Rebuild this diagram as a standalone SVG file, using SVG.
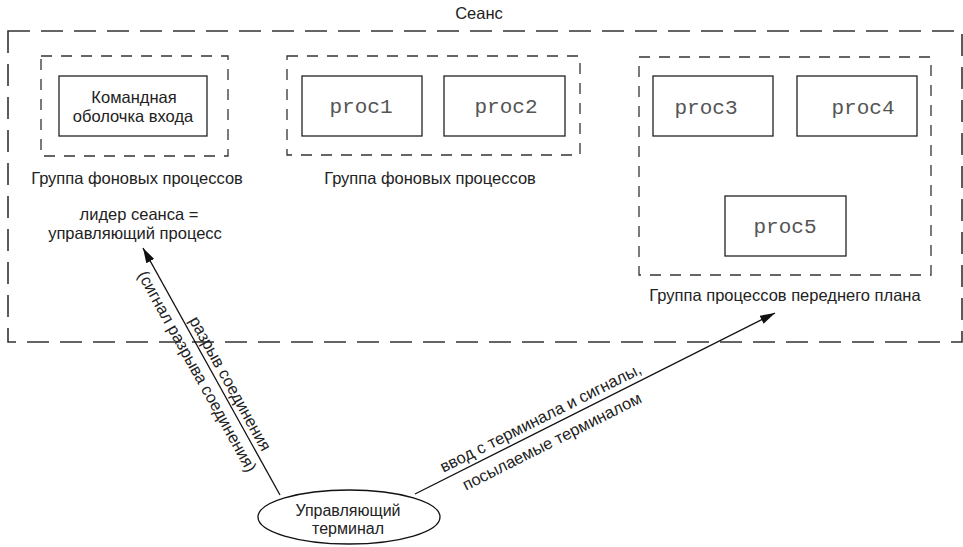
<svg xmlns="http://www.w3.org/2000/svg" width="963" height="547" viewBox="0 0 963 547">
<defs>
<style>
.t{font-family:"Liberation Sans",Arial,sans-serif;font-size:16.5px;fill:#222;text-anchor:middle}
.s{font-size:16px}
.m{font-family:"Liberation Mono","Courier New",monospace;font-size:21px;fill:#555;text-anchor:middle}
.outer{fill:none;stroke:#333;stroke-width:1.6;stroke-dasharray:22 11}
.grp{fill:none;stroke:#333;stroke-width:1.3;stroke-dasharray:11 9}
.box{fill:#fff;stroke:#222;stroke-width:1.3}
.conn{fill:none;stroke:#111;stroke-width:1.3}
</style>
<marker id="arr" markerUnits="userSpaceOnUse" markerWidth="16" markerHeight="10" refX="15" refY="4.5" orient="auto">
<path d="M0,0 L15,4.5 L0,9 z" fill="#111"/>
</marker>
</defs>
<rect width="963" height="547" fill="#fff"/>

<g id="session">
<rect class="outer" x="8" y="31" width="954" height="311"/>
<text class="t" x="479" y="19">Сеанс</text>
</g>

<g id="bg-group-1">
<rect class="grp" x="41" y="56" width="187" height="100"/>
<text class="t" x="137" y="184">Группа фоновых процессов</text>
</g>
<g id="login-shell">
<rect class="box" x="59" y="76" width="148" height="60"/>
<text class="t" x="134" y="103">Командная</text>
<text class="t" x="133" y="122">оболочка входа</text>
</g>
<g id="session-leader">
<text class="t" x="139" y="220">лидер сеанса =</text>
<text class="t" x="135" y="239">управляющий процесс</text>
</g>

<g id="bg-group-2">
<rect class="grp" x="287" y="56" width="293" height="99"/>
<text class="t" x="430" y="184">Группа фоновых процессов</text>
</g>
<g id="proc1">
<rect class="box" x="302" y="76" width="120" height="60"/>
<text class="m" x="361" y="113">proc1</text>
</g>
<g id="proc2">
<rect class="box" x="444" y="76" width="121" height="60"/>
<text class="m" x="506" y="113">proc2</text>
</g>

<g id="fg-group">
<rect class="grp" x="639" y="57" width="292" height="218"/>
<text class="t" x="785" y="301">Группа процессов переднего плана</text>
</g>
<g id="proc3">
<rect class="box" x="653" y="76" width="120" height="60"/>
<text class="m" x="706" y="114">proc3</text>
</g>
<g id="proc4">
<rect class="box" x="797" y="76" width="120" height="60"/>
<text class="m" x="863" y="114">proc4</text>
</g>
<g id="proc5">
<rect class="box" x="725" y="196" width="121" height="60"/>
<text class="m" x="785" y="233">proc5</text>
</g>

<g id="connectors">
<line class="conn" x1="280" y1="495" x2="143" y2="248" marker-end="url(#arr)"/>
<line class="conn" x1="415" y1="494" x2="775" y2="313" marker-end="url(#arr)"/>
<text class="t" x="225.4" y="386.3" transform="rotate(61 225.4 386.3)">разрыв соединения</text>
<text class="t" x="192.3" y="374.1" transform="rotate(61 192.3 374.1)">(сигнал разрыва соединения)</text>
<text class="t" x="543.1" y="422.8" transform="rotate(-26.69 543.1 422.8)">ввод с терминала и сигналы,</text>
<text class="t" x="554.4" y="446.3" transform="rotate(-26.69 554.4 446.3)">посылаемые терминалом</text>
</g>

<g id="terminal">
<ellipse cx="349" cy="517" rx="91" ry="27" fill="#fff" stroke="#111" stroke-width="1.3"/>
<text class="t s" x="348" y="515.5">Управляющий</text>
<text class="t s" x="348" y="533.5">терминал</text>
</g>
</svg>
